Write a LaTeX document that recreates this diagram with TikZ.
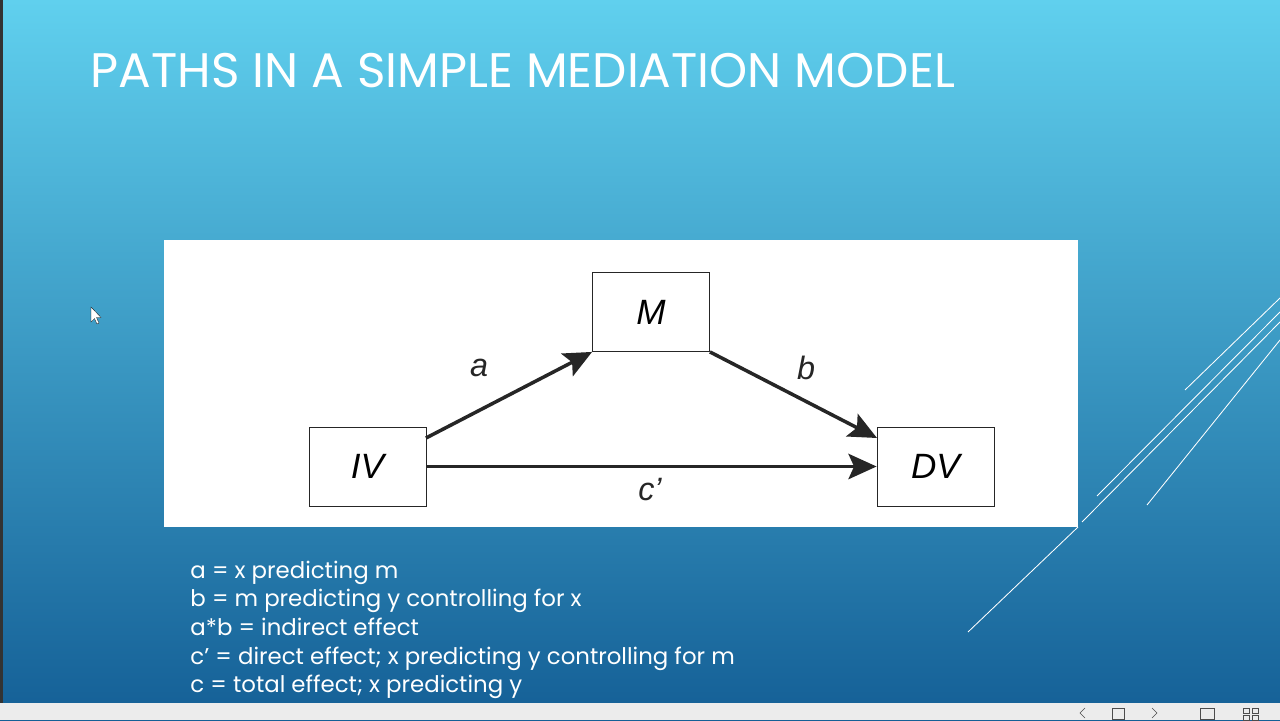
\documentclass[tikz,border=0pt]{standalone}
\usepackage{fontspec}
\setmainfont{Poppins}
\newfontfamily\diag{Liberation Sans}
\usetikzlibrary{arrows.meta}
\begin{document}
\begin{tikzpicture}[x=0.05cm,y=-0.05cm,
  box/.style={draw=black!85,line width=1.2pt,fill=white,minimum width=5.85cm,minimum height=3.95cm,inner sep=0pt,font=\diag\itshape\fontsize{50}{50}\selectfont},
  path/.style={line width=5pt,black!85,-{Stealth[length=40pt,width=36pt,inset=8pt]}},
  lab/.style={font=\diag\itshape\fontsize{46}{46}\selectfont,text=black!85},
  deco/.style={white,line width=1.2pt},
  note/.style={anchor=base west,text=white,font=\fontsize{32.5}{32.5}\selectfont}]
\useasboundingbox (0,0) rectangle (1280,720);
\shade[top color={rgb,255:red,96;green,208;blue,238},bottom color={rgb,255:red,20;green,95;blue,150}] (0,0) rectangle (1280,720);
\fill[black!80] (0,0) rectangle (3,703);
\fill[gray!15] (0,703) rectangle (1280,720);
\node[anchor=base west,text=white,font=\fontsize{69}{69}\selectfont] (title) at (88,87) {PATHS IN A SIMPLE MEDIATION MODEL};
\fill[white] (164,240) rectangle (1078,527);
\node[box] (M) at (651,312) {M};
\node[box] (IV) at (367.5,466.5) {IV};
\node[box] (DV) at (935.5,466.5) {DV};
\coordinate (as) at (426,438);
\coordinate (be) at (877,438);
\draw[path] (as) -- (M.south west);
\draw[path] (M.south east) -- (be);
\draw[path] (IV.east) -- (DV.west);
\node[lab] (la) at (479,368) {a};
\node[lab] (lb) at (806,368) {b};
\node[lab] (lc) at (650,490) {c’};
\node[note] (n1) at (188,578) {a = x predicting m};
\node[note] (n2) at (188,606) {b = m predicting y controlling for x};
\node[note] (n3) at (188,635) {a*b = indirect effect};
\node[note] (n4) at (188,664) {c’ = direct effect; x predicting y controlling for m};
\node[note] (n5) at (188,692) {c = total effect; x predicting y};
\draw[deco] (1280,298) -- (1185,390);
\draw[deco] (1280,312) -- (1097,496);
\draw[deco] (1280,322) -- (1082,522);
\draw[deco] (1280,340) -- (1147,505);
\draw[deco] (1078,527) -- (968,632);
\fill[white,draw=black,line width=0.4pt] (91,307) -- (91,322) -- (94.5,318.5) -- (97,324) -- (99,323) -- (96.5,317.5) -- (101,317.5) -- cycle;
\draw[gray!60!black,line width=0.8pt] (1085,708) -- (1080,713) -- (1085,718) (1152,708) -- (1157,713) -- (1152,718);
\draw[gray!60!black,line width=0.8pt] (1112,708) rectangle (1124,719) (1200,708) rectangle (1214,719) (1243,708) rectangle (1249,713) (1252,708) rectangle (1258,713) (1243,715) rectangle (1249,720) (1252,715) rectangle (1258,720);
\end{tikzpicture}
\end{document}
